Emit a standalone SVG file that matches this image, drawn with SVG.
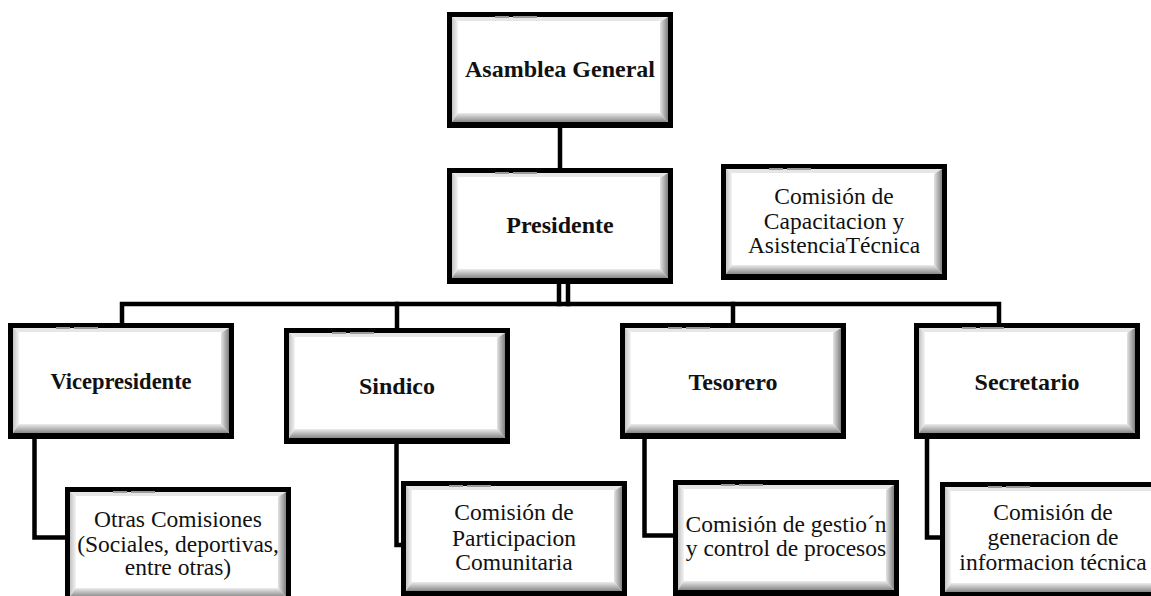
<svg xmlns="http://www.w3.org/2000/svg" xmlns:xlink="http://www.w3.org/1999/xlink" width="1151" height="596" viewBox="0 0 1151 596">
<style>
.b{font-family:'Liberation Serif','DejaVu Serif','Noto Serif',serif;font-weight:bold;font-size:24px;fill:#111;text-anchor:middle}
.r{font-family:'Liberation Serif','DejaVu Serif','Noto Serif',serif;font-size:23.5px;fill:#111;text-anchor:middle}
.c{fill:none;stroke:#000;stroke-width:4.5;stroke-linejoin:miter;stroke-linecap:square}
</style>
<defs>
<linearGradient id="gl" x1="0" y1="0" x2="1" y2="0"><stop offset="0" stop-color="#c4c4c4"/><stop offset="1" stop-color="#f4f4f4"/></linearGradient>
<linearGradient id="gr" x1="0" y1="0" x2="1" y2="0"><stop offset="0" stop-color="#e4e4e4"/><stop offset="1" stop-color="#808080"/></linearGradient>
<linearGradient id="gb" x1="0" y1="0" x2="0" y2="1"><stop offset="0" stop-color="#ececec"/><stop offset="1" stop-color="#888888"/></linearGradient>
<g id="box">
<rect x="0" y="0" width="226" height="116" fill="#000"/>
<rect x="5" y="5" width="216" height="105" fill="#fff"/>
<polygon points="5,5 221,5 215,9 11,9" fill="#e6e6e6"/>
<polygon points="5,5 11,9 11,103 5,110" fill="url(#gl)"/>
<polygon points="221,5 221,110 213,101 213,10" fill="url(#gr)"/>
<polygon points="5,110 221,110 213,101 11,101" fill="url(#gb)"/>
<rect x="48" y="4" width="14" height="2" fill="#9a9a9a"/>
<rect x="66" y="4" width="24" height="2" fill="#9a9a9a"/>
</g>
</defs>
<g id="connectors">
<path class="c" d="M560,128 V168"/>
<path class="c" d="M559,283 V304 M568,283 V304"/>
<path class="c" d="M122,323 V304 H999 V323"/>
<path class="c" d="M397,304 V328"/>
<path class="c" d="M733,304 V323"/>
<path class="c" d="M34.5,440 V537.5 H65"/>
<path class="c" d="M396.5,444 V545 H401"/>
<path class="c" d="M644.5,440 V535.5 H673"/>
<path class="c" d="M927,440 V537.5 H940"/>
</g>
<g id="asamblea"><use xlink:href="#box" x="447" y="12"/><text class="b" x="560" y="77">Asamblea General</text></g>
<g id="presidente"><use xlink:href="#box" x="447" y="168"/><text class="b" x="560" y="233">Presidente</text></g>
<g id="capacitacion"><use xlink:href="#box" x="721" y="164"/>
<text class="r" x="834" y="204">Comisión de</text><text class="r" x="834" y="229">Capacitacion y</text><text class="r" x="834" y="253">AsistenciaTécnica</text></g>
<g id="vicepresidente"><use xlink:href="#box" x="8" y="323"/><text class="b" x="121" y="389" style="font-size:22.5px">Vicepresidente</text></g>
<g id="sindico"><use xlink:href="#box" x="284" y="328"/><text class="b" x="397" y="394">Sindico</text></g>
<g id="tesorero"><use xlink:href="#box" x="620" y="323"/><text class="b" x="733" y="390">Tesorero</text></g>
<g id="secretario"><use xlink:href="#box" x="914" y="323"/><text class="b" x="1027" y="390">Secretario</text></g>
<g id="otras"><use xlink:href="#box" x="65" y="487"/>
<text class="r" x="178" y="527">Otras Comisiones</text><text class="r" x="178" y="551.5">(Sociales, deportivas,</text><text class="r" x="178" y="575">entre otras)</text></g>
<g id="participacion"><use xlink:href="#box" x="401" y="481"/>
<text class="r" x="514" y="520">Comisión de</text><text class="r" x="514" y="546">Participacion</text><text class="r" x="514" y="570">Comunitaria</text></g>
<g id="gestion"><use xlink:href="#box" x="673" y="480"/>
<text class="r" x="786" y="531.5">Comisión de gestio´n</text><text class="r" x="786" y="556">y control de procesos</text></g>
<g id="informacion"><use xlink:href="#box" x="940" y="482"/>
<text class="r" x="1053" y="520">Comisión de</text><text class="r" x="1053" y="545">generacion de</text><text class="r" x="1053" y="570">informacion técnica</text></g>
</svg>
